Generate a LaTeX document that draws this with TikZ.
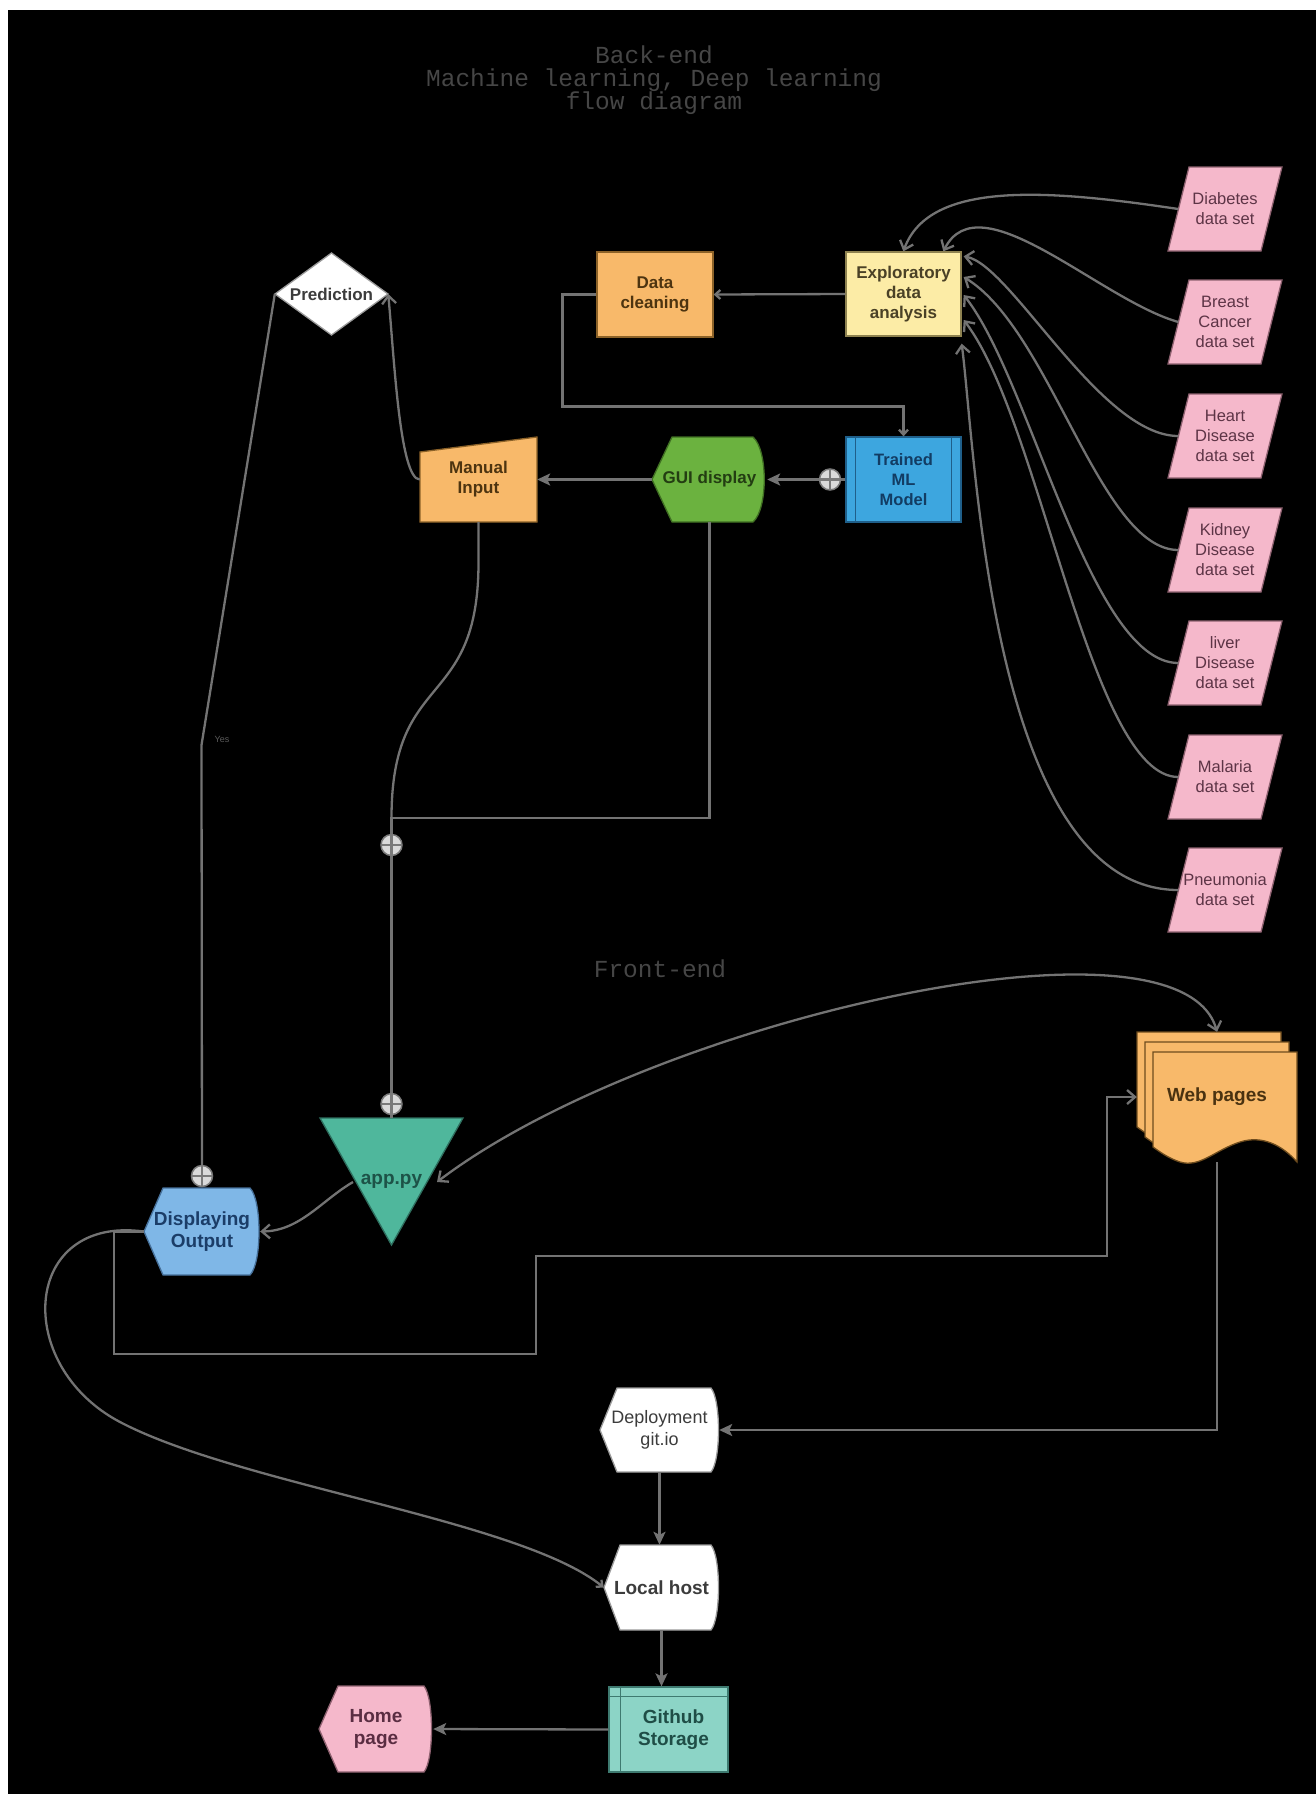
\documentclass[tikz,border=0pt]{standalone}
\usepackage{fontspec}
\setmainfont{Liberation Sans}
\newfontfamily\titlefont{Liberation Mono}
\usetikzlibrary{arrows.meta,calc}
\definecolor{lineC}{HTML}{737373}
\definecolor{titleC}{HTML}{464646}
\definecolor{orangeF}{HTML}{F8B96A}
\definecolor{orangeD}{HTML}{8C6228}
\definecolor{brownT}{HTML}{4D3410}
\definecolor{yellowF}{HTML}{FCECA6}
\definecolor{yellowD}{HTML}{8E8250}
\definecolor{edaT}{HTML}{4A4126}
\definecolor{blueF}{HTML}{3DA6DF}
\definecolor{blueD}{HTML}{1F5F8A}
\definecolor{blueT}{HTML}{123C63}
\definecolor{greenF}{HTML}{6BB23F}
\definecolor{greenD}{HTML}{3F6E22}
\definecolor{greenT}{HTML}{233D12}
\definecolor{tealF}{HTML}{4FB79C}
\definecolor{tealD}{HTML}{2E6E5E}
\definecolor{tealT}{HTML}{1D5247}
\definecolor{lblueF}{HTML}{7FB7E7}
\definecolor{lblueD}{HTML}{46709A}
\definecolor{dispT}{HTML}{1B3D68}
\definecolor{pinkF}{HTML}{F5B8CB}
\definecolor{pinkD}{HTML}{8E6170}
\definecolor{pinkT}{HTML}{5D3446}
\definecolor{webD}{HTML}{6E4C1E}
\definecolor{webT}{HTML}{4A3210}
\definecolor{gitF}{HTML}{8CD4C6}
\definecolor{gitD}{HTML}{3E7A70}
\definecolor{gitT}{HTML}{1F4D46}
\definecolor{homeT}{HTML}{5A2D42}
\definecolor{dgray}{HTML}{3C3C3C}
\definecolor{wD}{HTML}{9A9A9A}
\definecolor{cplF}{HTML}{DADADA}
\definecolor{cplD}{HTML}{7A7A7A}
\definecolor{yesC}{HTML}{5A5A5A}
\begin{document}
\begin{tikzpicture}[x=1pt,y=-1pt,
  conn/.style={draw=lineC, line width=2.3pt},
  farrow/.style={-{Stealth[length=13pt,width=12pt,inset=3pt]}},
  oarrow/.style={-{Straight Barb[length=8pt,width=14pt]}},
  sarrow/.style={-{Straight Barb[length=5pt,width=9pt]}},
  twoarrow/.style={{Straight Barb[length=8pt,width=14pt]}-{Straight Barb[length=8pt,width=14pt]}},
  txt/.style={inner sep=0pt, align=center, font=\bfseries\fontsize{17}{20}\selectfont},
  txtb/.style={inner sep=0pt, align=center, font=\bfseries\fontsize{19}{22}\selectfont},
  shp/.style={line width=1.3pt},
  rbox/.style={txt, shp},
  dtxt/.style={inner sep=0pt, align=center, font=\fontsize{16.5}{20}\selectfont, text=pinkT},
  cpl/.style={circle, minimum size=21pt, inner sep=0pt, fill=cplF, draw=cplD, line width=1.5pt,
    path picture={\draw[cplD, line width=2.5pt] (path picture bounding box.north) -- (path picture bounding box.south) (path picture bounding box.west) -- (path picture bounding box.east);}},
  titletxt/.style={inner sep=0pt, align=center, text=titleC, font=\titlefont\fontsize{24.5}{23}\selectfont}
]
\useasboundingbox (0,0) rectangle (1316,1794);
\fill[white] (0,0) rectangle (1316,1794);
\fill[black] (8,10) rectangle (1316,1794);

% titles
\node[titletxt] (title) at (654,80) {Back-end\\Machine learning, Deep learning\\flow diagram};
\node[titletxt] (fronttitle) at (660,969) {Front-end};

% Prediction
\filldraw[fill=white, draw=wD, shp] (331.5,253) -- (388,294) -- (331.5,335) -- (275,294) -- cycle;
\node[txt, text=dgray, minimum width=113pt, minimum height=82pt] (pred) at (331.5,294) {Prediction};

% Data cleaning
\node[rbox, fill=orangeF, draw=orangeD, text=brownT, minimum width=116pt, minimum height=85pt] (clean) at (655,294.5) {Data\\cleaning};

% Exploratory
\node[rbox, fill=yellowF, draw=yellowD, text=edaT, minimum width=115pt, minimum height=84pt] (eda) at (903.5,294) {Exploratory\\data\\analysis};

% Trained ML model
\node[rbox, fill=blueF, draw=blueD, text=blueT, font=\bfseries\fontsize{16.5}{20}\selectfont, minimum width=115pt, minimum height=85pt] (trained) at (903.5,479.5) {Trained\\ML\\Model};
\draw[blueD, line width=1.3pt] ([xshift=10pt]trained.north west) -- ([xshift=10pt]trained.south west)
  ([xshift=-10pt]trained.north east) -- ([xshift=-10pt]trained.south east);

% GUI display
\filldraw[fill=greenF, draw=greenD, shp] (652,479.5) -- (672,437) -- (753,437) .. controls (768,450) and (768,509) .. (753,522) -- (672,522) -- cycle;
\node[txt, text=greenT, minimum width=115pt, minimum height=85pt] (gui) at (709.5,479.5) {GUI display};

% Manual input
\filldraw[fill=orangeF, draw=orangeD, shp] (420,452) -- (537,437) -- (537,522) -- (420,522) -- cycle;
\node[txt, text=brownT, minimum width=117pt, minimum height=85pt] (manual) at (478.5,479.5) {\raisebox{-4pt}{\begin{tabular}{@{}c@{}}Manual\\Input\end{tabular}}};

% data sets
\foreach \nm/\cy/\tx in {dia/209/{Diabetes\\data set}, bre/322/{Breast\\Cancer\\data set}, hea/436/{Heart\\Disease\\data set}, kid/550/{Kidney\\Disease\\data set}, liv/663/{liver\\Disease\\data set}, mal/777/{Malaria\\data set}, pne/890/{Pneumonia\\data set}}{
  \filldraw[fill=pinkF, draw=pinkD, shp] (1189,\cy-42) -- (1282,\cy-42) -- (1261,\cy+42) -- (1168,\cy+42) -- cycle;
  \node[dtxt, minimum width=93pt, minimum height=84pt] (\nm) at (1225,\cy) {\tx};
}

% app.py
\filldraw[fill=tealF, draw=tealD, shp] (320,1118) -- (463,1118) -- (391.5,1245) -- cycle;
\node[txtb, text=tealT, minimum width=143pt, minimum height=127pt] (app) at (391.5,1181.5) {\raisebox{4pt}{app.py}};
\coordinate (appl) at (353,1182);
\coordinate (appr) at (437,1182);

% Displaying output
\filldraw[fill=lblueF, draw=lblueD, shp] (144,1231.5) -- (163,1188) -- (250,1188) .. controls (262,1200) and (262,1263) .. (250,1275) -- (163,1275) -- cycle;
\node[txtb, text=dispT, minimum width=116pt, minimum height=87pt] (disp) at (202,1231.5) {Displaying\\Output};

% Web pages
\foreach \dx/\dy in {-16/-20, -8/-10, 0/0}{
  \begin{scope}[shift={(\dx,\dy)}]
  \filldraw[fill=orangeF, draw=webD, shp] (1153,1052) -- (1297,1052) -- (1297,1162)
    .. controls (1282,1145) and (1262,1135) .. (1240,1142)
    .. controls (1215,1150) and (1200,1168) .. (1180,1162)
    .. controls (1168,1158) and (1160,1152) .. (1153,1147) -- cycle;
  \end{scope}
}
\node[txtb, text=webT, minimum width=160pt, minimum height=130pt] (web) at (1217,1097) {Web pages};

% Deployment
\filldraw[fill=white, draw=wD, shp] (600,1430) -- (617,1388) -- (711,1388) .. controls (721,1400) and (721,1460) .. (711,1472) -- (617,1472) -- cycle;
\node[inner sep=0pt, align=center, font=\fontsize{18}{22}\selectfont, text=dgray, minimum width=119pt, minimum height=84pt] (deploy) at (659.5,1430) {Deployment\\git.io};

% Local host
\filldraw[fill=white, draw=wD, shp] (604,1587.5) -- (620,1545) -- (711,1545) .. controls (721,1557) and (721,1618) .. (711,1630) -- (620,1630) -- cycle;
\node[txtb, text=dgray, minimum width=115pt, minimum height=85pt] (local) at (661.5,1587.5) {Local host};

% Github storage
\node[txtb, fill=gitF, draw=gitD, shp, text=gitT, minimum width=119pt, minimum height=85pt] (git) at (668.5,1729.5) {\hspace{10pt}Github\\\hspace{10pt}Storage};
\draw[gitD, line width=1.3pt] ([yshift=-10pt]git.north west) -- ([yshift=-10pt]git.north east)
  ([xshift=12pt]git.north west) -- ([xshift=12pt]git.south west);

% Home page
\filldraw[fill=pinkF, draw=pinkD, shp] (319,1729) -- (338,1686) -- (424,1686) .. controls (434,1698) and (434,1760) .. (424,1772) -- (338,1772) -- cycle;
\node[txtb, text=homeT, minimum width=114pt, minimum height=86pt] (home) at (376,1729) {Home\\page};

% circle plus markers
\node[cpl] (cp1) at (830,479.5) {};
\node[cpl] (cp2) at (391.5,845) {};
\node[cpl] (cp3) at (391.5,1104) {};
\node[cpl] (cp4) at (202,1176) {};

% ---------- connectors ----------
% data sets -> EDA
\draw[conn, oarrow] (dia.west) .. controls +(-128,-19) and +(26,-72) .. ($(eda.north west)+(58,0)$);
\draw[conn, oarrow] (bre.west) .. controls +(-78,-22) and +(36,-72) .. ($(eda.north west)+(98,0)$);
\draw[conn, oarrow] (hea.west) .. controls +(-78,0) and +(47,8) .. ($(eda.north east)+(2,5)$);
\draw[conn, oarrow] (kid.west) .. controls +(-78,0) and +(87,53) .. ($(eda.east)+(2,-17)$);
\draw[conn, oarrow] (liv.west) .. controls +(-88,0) and +(67,85) .. ($(eda.east)+(2,1)$);
\draw[conn, oarrow] (mal.west) .. controls +(-88,0) and +(77,100) .. ($(eda.east)+(2,26)$);
\draw[conn, oarrow] (pne.west) .. controls +(-188,0) and +(14,107) .. ($(eda.south east)+(0,7)$);

% EDA -> cleaning -> trained
\draw[conn, sarrow] (eda.west) -- (clean.east);
\draw[conn, sarrow] (clean.west) -- ++(-34,0) |- ($(trained.north)+(0,-30)$) -- (trained.north);

% trained -> GUI -> manual
\draw[conn] (trained.west) -- (cp1);
\draw[conn, farrow] (cp1) -- (gui.east);
\draw[conn, farrow] (gui.west) -- (manual.east);

% manual -> prediction
\draw[conn, oarrow] (manual.west) .. controls +(-20,0) and +(6,64) .. (pred.east);

% prediction -> displaying output
\coordinate (bend) at (201.5,745);
\draw[conn] (pred.west) -- (bend) -- (cp4);
\node[inner sep=0pt, font=\fontsize{9}{10}\selectfont, text=yesC] (yes) at (222,739) {Yes};

% GUI / manual -> app.py
\coordinate (join) at (391.5,818);
\draw[conn] (gui.south) |- (join) -- (cp2);
\draw[conn] (manual.south) -- ++(0,40) .. controls +(0,150) and +(0,-150) .. (join);
\draw[conn] (cp2) -- (cp3);
\draw[conn] (cp3) -- (app.north);

% app.py -> displaying output
\draw[conn, oarrow] (appl) .. controls (322,1200) and (300,1231) .. (disp.east);

% app.py <-> web pages
\draw[conn, twoarrow] (appr) .. controls (650,1020) and (1180,900) .. (web.north);

% displaying output -> web pages
\draw[conn, oarrow] (disp.west) -- ++(-30,0) |- (536,1354) |- (1107,1256) |- (web.west);

% displaying output -> local host
\draw[conn, sarrow] (disp.west) .. controls (22,1215) and (12,1365) .. (120,1422)
  .. controls (240,1485) and (520,1520) .. (local.west);

% web pages -> deployment -> local host -> github -> home
\draw[conn, farrow] (web.south) |- (deploy.east);
\draw[conn, farrow] (deploy.south) -- (deploy.south |- local.north);
\draw[conn, farrow] (local.south) -- (local.south |- git.north);
\draw[conn, farrow] (git.west) -- (home.east);
\end{tikzpicture}
\end{document}
